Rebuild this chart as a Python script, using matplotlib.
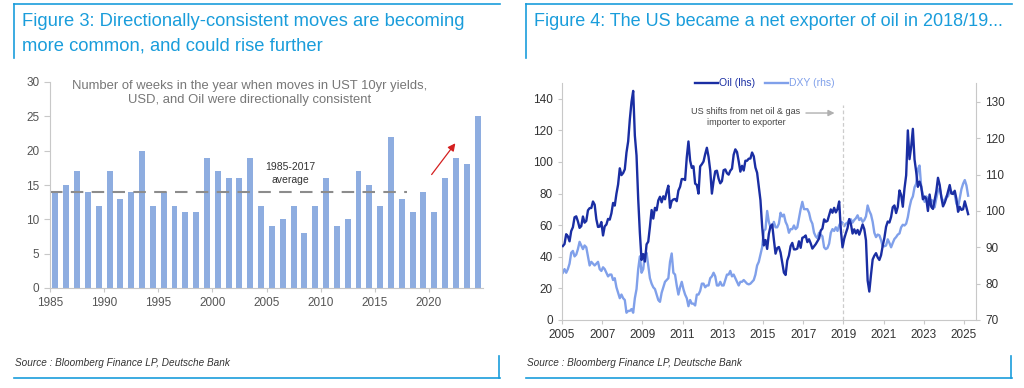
import numpy as np
import matplotlib
matplotlib.use("Agg")
import matplotlib.pyplot as plt
from matplotlib.lines import Line2D

plt.rcParams['font.family'] = ['Liberation Sans', 'DejaVu Sans']

W, H = 1024, 388
BOX = '#1a9ddb'
TITLE = '#1a9ddb'
AX_GREY = '#c8c8c8'
BAR_C = '#8eade0'
OIL_C = '#1a2ea3'
DXY_C = '#80a0ea'

# ---- Figure 3 data: weeks per year with directionally-consistent moves
years = list(range(1985, 2025))
weeks = [14, 15, 17, 14, 12, 17, 13, 14, 20, 12,
         14, 12, 11, 11, 19, 17, 16, 16, 19, 12,
         9, 10, 12, 8, 12, 16, 9, 10, 17, 15,
         12, 22, 13, 11, 14, 11, 16, 19, 18, 25]
avg_1985_2017 = 14

# ---- Figure 4 data: monthly WTI oil ($/bbl) and DXY, Jan 2005 - Mar 2025
oil = [
    46.8, 48.1, 54.3, 53.0, 49.8, 56.3, 58.7, 65.0, 65.6, 62.4, 58.3, 59.4,   # 2005
    65.5, 61.6, 62.7, 69.4, 70.8, 70.9, 75.0, 73.0, 63.8, 58.9, 59.1, 62.0,   # 2006
    53.5, 59.3, 60.4, 64.0, 63.5, 67.5, 74.1, 72.4, 79.9, 85.8, 96.0, 91.7,   # 2007
    93.0, 95.4, 106.0, 113.0, 127.0, 138.0, 145.0, 116.7, 104.1, 76.6, 55.0, 38.0,  # 2008
    41.7, 37.0, 47.9, 49.6, 59.0, 69.6, 64.2, 71.0, 69.4, 75.7, 78.0, 74.5,   # 2009
    78.3, 76.4, 81.2, 85.0, 71.0, 75.3, 76.3, 76.6, 75.2, 81.9, 84.3, 89.2,   # 2010
    89.2, 88.6, 102.9, 113.0, 100.9, 96.3, 97.3, 86.3, 85.5, 80.0, 97.2, 98.6,  # 2011
    100.3, 105.0, 109.0, 103.3, 94.7, 80.0, 87.9, 94.1, 94.5, 89.5, 86.5, 87.9,  # 2012
    94.8, 95.3, 92.9, 92.0, 94.5, 95.8, 104.6, 108.0, 106.3, 100.5, 93.9, 97.6,  # 2013
    94.6, 100.8, 100.8, 102.1, 102.2, 106.0, 103.6, 96.5, 93.2, 84.4, 75.8, 59.3,  # 2014
    47.2, 50.6, 45.0, 54.5, 59.3, 60.5, 50.9, 42.0, 45.5, 46.2, 42.7, 36.5,   # 2015
    30.0, 28.5, 37.6, 40.8, 46.7, 48.8, 44.7, 44.7, 45.2, 49.8, 45.7, 52.0,   # 2016
    52.5, 53.5, 49.3, 51.1, 48.5, 45.2, 46.6, 48.0, 49.8, 51.6, 56.6, 57.9,   # 2017
    63.7, 62.2, 62.7, 66.3, 70.0, 67.9, 71.0, 68.1, 70.2, 75.0, 57.0, 46.0,   # 2018
    51.4, 55.0, 58.2, 63.9, 60.8, 54.7, 57.4, 54.8, 57.0, 54.0, 57.0, 60.5,   # 2019
    57.5, 50.5, 25.0, 18.0, 28.6, 38.3, 40.7, 42.3, 39.6, 38.0, 41.0, 47.0,   # 2020
    52.0, 59.0, 62.3, 61.7, 65.2, 71.4, 72.5, 67.7, 71.6, 82.0, 79.2, 71.7,   # 2021
    83.2, 91.6, 120.0, 101.8, 109.6, 121.0, 101.6, 93.7, 84.3, 87.6, 84.4, 76.4,  # 2022
    78.1, 76.8, 69.0, 79.4, 71.6, 70.3, 76.0, 81.4, 90.0, 85.6, 77.7, 71.9,   # 2023
    74.2, 77.3, 81.3, 85.4, 80.0, 79.8, 81.8, 76.7, 68.5, 71.6, 69.7, 70.1,   # 2024
    75.1, 71.2, 67.0,                                                         # 2025
]
dxy = [
    83.0, 84.0, 83.0, 84.0, 85.5, 88.5, 89.0, 87.5, 88.0, 89.5, 91.5, 90.5,   # 2005
    89.5, 90.5, 90.0, 87.5, 85.0, 86.0, 85.5, 85.0, 85.5, 86.0, 84.0, 83.5,   # 2006
    84.5, 84.0, 83.0, 82.0, 82.5, 82.5, 81.0, 81.5, 79.0, 77.5, 76.0, 77.0,   # 2007
    76.0, 75.5, 72.0, 72.5, 72.5, 73.0, 72.0, 76.0, 78.5, 84.0, 87.5, 83.0,   # 2008
    84.0, 88.0, 88.5, 85.0, 81.5, 80.0, 79.0, 78.5, 77.0, 75.5, 75.0, 77.5,   # 2009
    79.0, 80.5, 81.0, 81.5, 86.0, 88.3, 83.0, 82.5, 79.5, 77.0, 79.0, 80.5,   # 2010
    78.5, 77.0, 76.0, 73.8, 75.5, 74.5, 74.5, 74.0, 77.0, 77.0, 78.0, 80.0,   # 2011
    80.0, 79.0, 79.5, 79.5, 81.5, 82.0, 83.0, 82.0, 79.5, 79.5, 80.5, 79.5,   # 2012
    79.5, 81.0, 82.5, 82.5, 83.5, 82.0, 82.5, 81.5, 80.5, 79.5, 80.5, 80.5,   # 2013
    81.0, 80.5, 80.0, 79.8, 80.0, 80.5, 81.0, 82.5, 85.0, 86.0, 88.0, 90.0,   # 2014
    94.5, 95.0, 100.0, 97.0, 95.5, 95.5, 97.0, 95.5, 95.5, 96.5, 99.5, 98.5,  # 2015
    99.0, 97.0, 96.0, 94.0, 95.0, 95.0, 96.0, 95.0, 95.5, 98.0, 100.5, 102.5,  # 2016
    100.5, 100.5, 100.5, 99.5, 97.5, 96.5, 94.0, 93.0, 92.5, 94.0, 93.5, 93.0,  # 2017
    90.0, 89.5, 89.8, 91.0, 94.0, 95.0, 94.5, 95.5, 94.5, 96.0, 97.0, 96.8,   # 2018
    95.8, 96.5, 96.8, 97.5, 97.7, 96.8, 97.5, 98.0, 98.8, 97.5, 98.0, 97.0,   # 2019
    97.5, 98.5, 101.5, 100.0, 99.0, 97.0, 94.0, 92.8, 93.5, 93.3, 92.0, 90.2,  # 2020
    90.3, 90.5, 92.2, 91.2, 90.0, 91.2, 92.3, 92.8, 93.5, 93.8, 95.5, 96.2,   # 2021
    96.0, 96.5, 98.3, 101.0, 103.0, 104.0, 106.5, 107.5, 111.5, 112.5, 106.5, 104.5,  # 2022
    102.5, 104.0, 103.5, 101.6, 103.0, 102.8, 101.0, 103.5, 105.5, 106.3, 104.0, 102.5,  # 2023
    103.0, 104.0, 104.0, 105.5, 105.0, 105.2, 104.5, 102.0, 101.0, 103.5, 106.0, 107.5,  # 2024
    108.5, 107.0, 104.2,                                                      # 2025
]
t = 2005 + np.arange(len(oil)) / 12.0 + 1 / 24.0

fig = plt.figure(figsize=(W / 100, H / 100), dpi=100)


def fx(px):
    return px / W


def fy(py):
    return 1 - py / H


def frame(x0, x1):
    # title box (top + left) and source box (bottom + right)
    fig.add_artist(Line2D([fx(x0), fx(x1)], [fy(4), fy(4)], color=BOX, lw=1.2))
    fig.add_artist(Line2D([fx(x0), fx(x0)], [fy(4), fy(58)], color=BOX, lw=1.2))
    fig.add_artist(Line2D([fx(x0), fx(x1)], [fy(378), fy(378)], color=BOX, lw=1.2))
    fig.add_artist(Line2D([fx(x1 - 1), fx(x1 - 1)], [fy(356), fy(378)], color=BOX, lw=1.2))
    fig.text(fx(x0 + 1), fy(363), 'Source : Bloomberg Finance LP, Deutsche Bank',
             fontsize=7.2, style='italic', color='#333333', va='center')


def style_axis(ax):
    for s in ['top', 'right']:
        ax.spines[s].set_visible(False)
    for s in ['left', 'bottom']:
        ax.spines[s].set_color(AX_GREY)
    ax.tick_params(colors=AX_GREY, labelcolor='#555555', labelsize=8.5, length=3)


frame(14, 500)
frame(526, 1012)

fig.text(fx(22), fy(22), 'Figure 3: Directionally-consistent moves are becoming',
         fontsize=13.2, color=TITLE, va='center')
fig.text(fx(22), fy(46), 'more common, and could rise further',
         fontsize=13.2, color=TITLE, va='center')
fig.text(fx(534), fy(22), 'Figure 4: The US became a net exporter of oil in 2018/19...',
         fontsize=13, color=TITLE, va='center')

# ---- left panel: bars
ax1 = fig.add_axes([fx(50), fy(288), fx(483 - 50), (288 - 82) / H])
ax1.bar(years, weeks, width=0.55, color=BAR_C)
ax1.plot([1984.5, 2017.5], [avg_1985_2017, avg_1985_2017], color='#8c8c8c',
         lw=1.5, dashes=(6, 4))
ax1.set_xlim(1984.5, 2024.5)
ax1.set_ylim(0, 30)
ax1.set_yticks(range(0, 31, 5))
ax1.set_xticks([y - 0.5 for y in range(1985, 2025, 5)])
ax1.set_xticklabels([str(y) for y in range(1985, 2025, 5)])
style_axis(ax1)
ax1.tick_params(axis='y', length=4)
ax1.text(2002.9, 30.3, 'Number of weeks in the year when moves in UST 10yr yields,\n'
         'USD, and Oil were directionally consistent', ha='center', va='top',
         fontsize=9.4, color='#777777', linespacing=1.2)
ax1.text(2006.7, 16.7, '1985-2017\naverage', ha='center', va='center',
         fontsize=7.5, color='#333333', linespacing=1.4)
ax1.annotate('', xy=(2022.1, 21.4), xytext=(2019.6, 16.2),
             arrowprops=dict(arrowstyle='-|>', color='#d42020', lw=0.9,
                             mutation_scale=11))

# ---- right panel: oil vs DXY
ax2 = fig.add_axes([fx(562), fy(320), fx(976 - 562), (320 - 83) / H])
ax3 = ax2.twinx()
ax2.plot(t, oil, color=OIL_C, lw=1.7, zorder=3)
ax3.plot(t, dxy, color=DXY_C, lw=1.7)
ax2.set_zorder(ax3.get_zorder() + 1)
ax2.patch.set_visible(False)
ax2.set_xlim(2005, 2025.6)
ax2.set_ylim(0, 150)
ax3.set_ylim(70, 135.2)
ax2.set_yticks(range(0, 141, 20))
ax3.set_yticks(range(70, 131, 10))
ax2.set_xticks(range(2005, 2026, 2))
style_axis(ax2)
for s in ['top', 'left', 'bottom']:
    ax3.spines[s].set_visible(False)
ax3.spines['right'].set_color(AX_GREY)
ax3.tick_params(colors=AX_GREY, labelcolor='#333333', labelsize=8.5, length=3)
ax2.tick_params(labelcolor='#333333')
ax2.axvline(2019, color='#cccccc', lw=0.9, ls=(0, (3, 2)), ymax=0.907)
ax2.text(2014.15, 128.2, 'US shifts from net oil & gas\nimporter to exporter',
         ha='center', va='center', fontsize=6.5, color='#444444', linespacing=1.3)
ax2.annotate('', xy=(2018.7, 131), xytext=(2017.0, 131),
             arrowprops=dict(arrowstyle='-|>', color='#b0b0b0', lw=1,
                             mutation_scale=9))
h1 = Line2D([], [], color=OIL_C, lw=1.7)
h2 = Line2D([], [], color=DXY_C, lw=1.7)
leg = ax2.legend([h1, h2], ['Oil (lhs)', 'DXY (rhs)'], loc='upper center',
                 bbox_to_anchor=(0.49, 1.06), ncol=2, frameon=False, fontsize=7.5,
                 handlelength=2.2, handletextpad=0.1, columnspacing=1.0)
leg.get_texts()[0].set_color(OIL_C)
leg.get_texts()[1].set_color(DXY_C)

fig.savefig('out.png', dpi=100)
